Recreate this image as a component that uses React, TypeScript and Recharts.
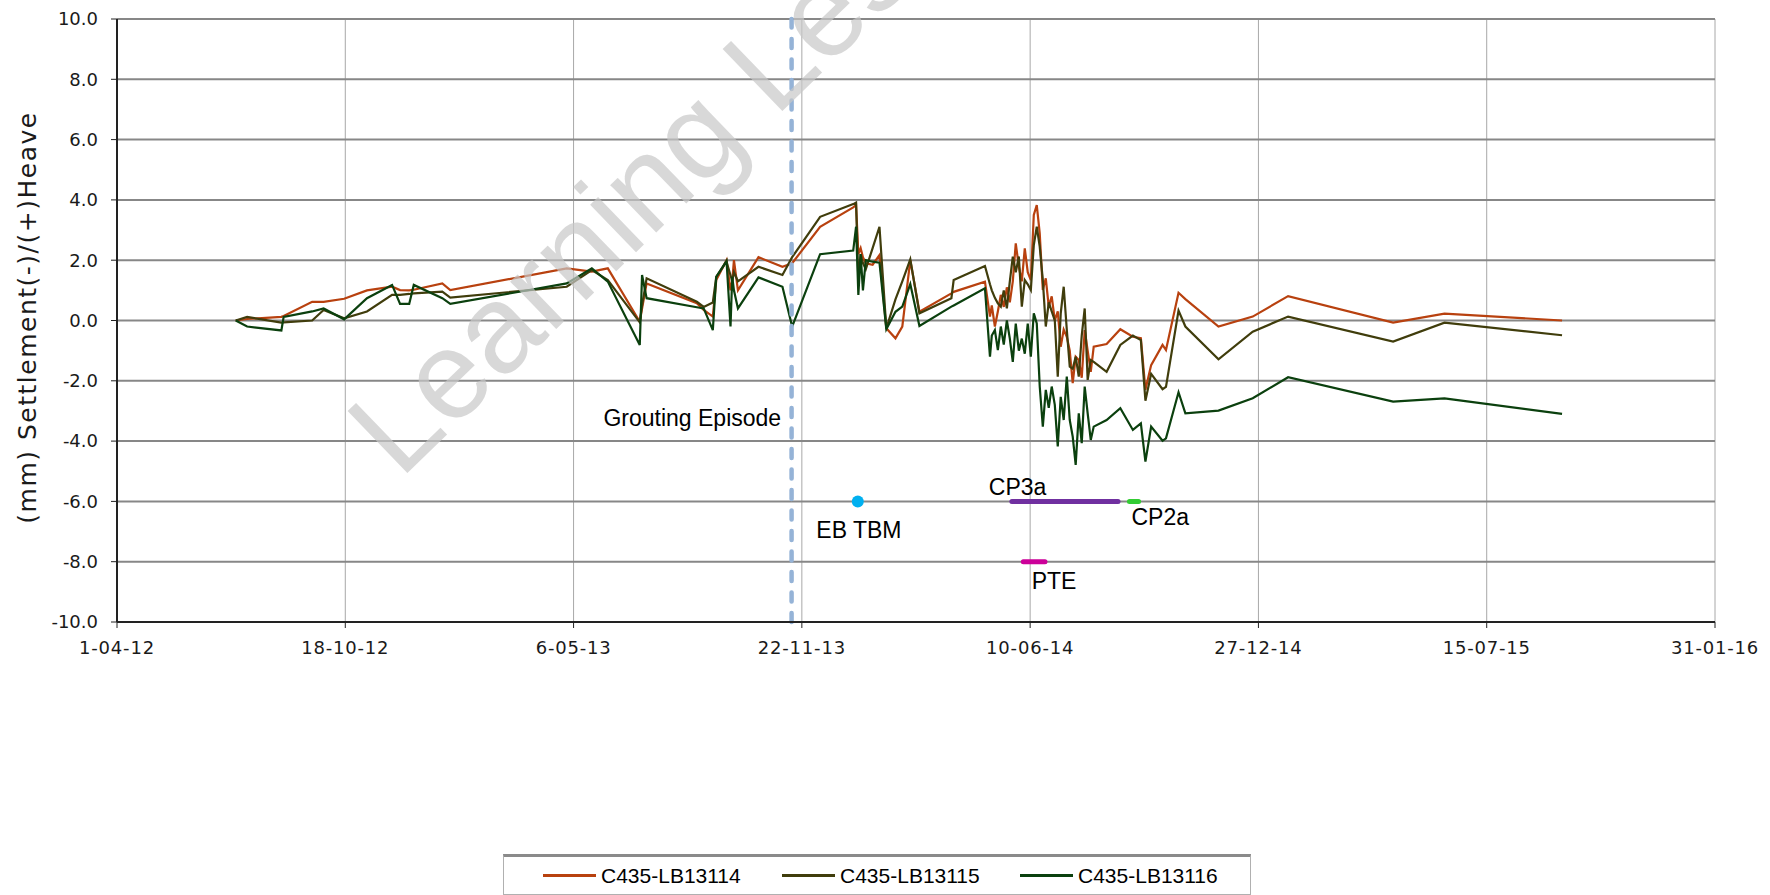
import { CartesianGrid, Legend, Line, LineChart, ReferenceDot, ReferenceLine, XAxis, YAxis } from 'recharts';

// survey dates as days counted from 1-04-12
const days = [
  104, 114, 144, 146, 171, 181, 199, 219, 241, 248, 256, 260, 285, 292, 394, 416, 430, 458, 460, 464,
  508, 514, 522, 525, 534, 537.5, 539, 540.5, 544, 562, 583, 591.5, 616, 645, 647.5, 649.5, 651.5, 653.5, 656, 662,
  668, 674, 682, 688, 695, 703, 731, 733,
  760.4, 764.8, 766.4, 769.1, 771.7, 774.3, 776.9, 779.6, 782.2, 784.8, 787.4, 790.1, 792.7, 795.3, 797.9, 800.6,
  803.2, 805.8, 808.4, 811.1, 813.7, 816.3, 818.9, 821.6, 824.2, 826.8, 829.4, 832.1, 834.7, 837.3, 839.9, 842.6,
  845.2, 847.8, 850.4, 853.1, 855.7,
  867, 879, 890, 897, 901, 906, 916, 919, 930, 936, 965, 995, 1026, 1118, 1163, 1266,
];

const lb13114 = [
  0, 0.05, 0.12, 0.15, 0.62, 0.62, 0.72, 1.0, 1.12, 1.01, 1.0, 1.02, 1.23, 1.01, 1.73, 1.62, 1.73, -0.04, 0.4, 1.23,
  0.57, 0.35, 0.13, 1.34, 2.0, 1.0, 1.3, 2.0, 1.0, 2.1, 1.78, 1.9, 3.11, 3.75, 3.83, 2.2, 2.4, 2.1, 1.9, 1.85,
  2.17, -0.26, -0.59, -0.2, 2.0, 0.29, 0.9, 0.95,
  1.29, 0.13, 0.5, -0.2, 0.3, 0.85, 0.45, 1.1, 0.6, 1.3, 2.56, 1.78, 1.3, 2.39, 1.6, 1.34,
  3.5, 3.83, 2.89, 1.01, 1.4, 0.46, 0.8, 0.0, 0.3, -0.87, -0.3, -0.54, -1.0, -2.08, -1.2, -1.31,
  -1.9, -0.32, -1.0, -1.7, -0.87,
  -0.78, -0.29, -0.54, -0.59, -2.3, -1.48, -0.81, -0.98, 0.92, 0.71, -0.2, 0.13, 0.81, -0.07, 0.23, 0.0,
];

const lb13115 = [
  0, 0.12, -0.07, -0.06, 0.0, 0.35, 0.07, 0.3, 0.85, 0.85, 0.88, 0.9, 0.96, 0.76, 1.12, 1.67, 1.34, -0.06, 0.5, 1.4,
  0.62, 0.45, 0.6, 1.45, 1.95, 1.5, 1.3, 1.6, 1.3, 1.78, 1.51, 2.1, 3.44, 3.86, 3.91, 1.3, 2.2, 1.9, 1.7, 2.4,
  3.11, -0.26, 0.7, 1.3, 2.03, 0.24, 0.74, 1.34,
  1.81, 1.2, 1.0, 0.75, 0.57, 0.46, 1.0, 0.4, 1.3, 2.12, 1.6, 2.12, 0.46, 1.34, 1.2, 1.01,
  2.5, 3.11, 2.45, 1.34, -0.2, 0.6, 0.3, 0.0, -1.86, 0.24, 1.12, -0.3, -1.53, -1.6, -1.2, -1.86,
  -0.5, 0.4, -1.97, -1.31, -1.37,
  -1.7, -0.81, -0.5, -0.65, -2.66, -1.77, -2.28, -2.2, 0.33, -0.2, -1.29, -0.37, 0.13, -0.7, -0.07, -0.49,
];

const lb13116 = [
  0, -0.2, -0.33, 0.12, 0.3, 0.4, 0.04, 0.74, 1.18, 0.55, 0.55, 1.18, 0.74, 0.55, 1.23, 1.73, 1.29, -0.81, 1.51, 0.74,
  0.44, 0.4, -0.32, 1.45, 1.98, -0.2, 1.45, 1.0, 0.4, 1.43, 1.12, -0.2, 2.2, 2.32, 3.11, 0.85, 2.2, 1.0, 2.0, 1.95,
  1.92, -0.29, 0.29, 0.46, 1.21, -0.18, 0.46, 0.5,
  1.07, -1.2, -0.5, -0.32, -0.98, -0.2, -0.8, 0.0, -0.6, -1.37, -0.1, -1.0, -0.6, -1.1, -0.1, -1.2,
  0.24, -0.1, -2.19, -3.52, -2.3, -2.9, -2.19, -2.8, -4.18, -2.53, -3.3, -1.86, -3.3, -3.85, -4.79, -3.08,
  -4.07, -2.19, -3.08, -3.96, -3.52,
  -3.3, -2.91, -3.63, -3.41, -4.68, -3.52, -3.99, -3.91, -2.38, -3.08, -2.99, -2.58, -1.88, -2.69, -2.58, -3.1,
];

const seriesNames = ['C435-LB13114', 'C435-LB13115', 'C435-LB13116'];

const xTicks = [0, 200, 400, 600, 800, 1000, 1200, 1400];
const xTickLabels = ['1-04-12', '18-10-12', '6-05-13', '22-11-13', '10-06-14', '27-12-14', '15-07-15', '31-01-16'];
const yTicks = [-10, -8, -6, -4, -2, 0, 2, 4, 6, 8, 10];

// construction events
const groutingDay = 591;
const tbmDay = 649;
const tbmLevel = -6;
const eventStart = [784, 887, 794];
const eventEnd = [877, 895, 813];
const eventLevel = [-6, -6, -8];

// text notes, placed in data units
const noteText = ['Grouting Episode', 'EB TBM', 'CP3a', 'CP2a', 'PTE'];
const noteDay = [504, 650, 789, 914, 821];
const noteLevel = [-3.23, -6.95, -5.52, -6.52, -8.64];

const lineColors = ['#b8410f', '#403d0c', '#0b400e'];
const eventColors = ['#7030a0', '#33cc33', '#cc0099'];
const legendX = [39, 278, 516];

const rows = days.map((d, i) => ({ day: d, a: lb13114[i], b: lb13115[i], c: lb13116[i] }));

const axisFont = '"DejaVu Sans", Verdana, sans-serif';
const noteFont = '"Liberation Sans", Arial, sans-serif';
const yTickStyle = { fontFamily: axisFont, fontSize: 18, fill: '#1a1a1a' };
const xTickStyle = { fontFamily: axisFont, fontSize: 18, fill: '#1a1a1a', letterSpacing: 0.8 };

const YTitle = (props: any) => {
  const vb = props.viewBox;
  const cy = vb ? vb.y + vb.height / 2 - 3 : 317;
  return (
    <text
      x={27}
      y={cy}
      transform={`rotate(-90 27 ${cy})`}
      textAnchor="middle"
      dominantBaseline="central"
      fontFamily={axisFont}
      fontSize={25}
      letterSpacing={1.5}
      fill="#1a1a1a"
    >
      (mm) Settlement(-)/(+)Heave
    </text>
  );
};

const LegendBox = (props: any) => {
  const payload = props.payload || [];
  return (
    <div
      style={{
        position: 'relative',
        width: 748,
        height: 41,
        boxSizing: 'border-box',
        borderTop: '3px solid #8a8a8a',
        borderLeft: '1px solid #b0b0b0',
        borderRight: '1px solid #b0b0b0',
        borderBottom: '1px solid #b0b0b0',
        background: '#fff',
        fontFamily: noteFont,
        fontSize: 21,
        color: '#000',
      }}
    >
      {payload.map((p: any, i: number) => (
        <div
          key={p.value}
          style={{ position: 'absolute', left: legendX[i], top: 0, height: '100%', display: 'flex', alignItems: 'center' }}
        >
          <span style={{ display: 'inline-block', width: 53, height: 3, background: p.color, marginRight: 5 }} />
          <span>{p.value}</span>
        </div>
      ))}
    </div>
  );
};

export default function App() {
  return (
    <div style={{ position: 'absolute', left: 0, top: 0, width: 1770, height: 895, background: '#fff' }}>
      <LineChart width={1770} height={895} data={rows} margin={{ top: 19, right: 55, bottom: 233, left: 0 }}>
        <CartesianGrid horizontal={false} stroke="#a8a8a8" strokeWidth={1} />
        <CartesianGrid vertical={false} stroke="#878787" strokeWidth={2} />
        <XAxis
          type="number"
          dataKey="day"
          domain={[0, 1400]}
          ticks={xTicks}
          interval={0}
          height={40}
          tickFormatter={(v: number) => xTickLabels[xTicks.indexOf(v)]}
          tick={xTickStyle}
          tickSize={6}
          tickMargin={13}
          axisLine={{ stroke: '#222', strokeWidth: 2 }}
          tickLine={{ stroke: '#222' }}
        />
        <YAxis
          type="number"
          domain={[-10, 10]}
          ticks={yTicks}
          interval={0}
          width={117}
          tickFormatter={(v: number) => v.toFixed(1)}
          tick={yTickStyle}
          tickSize={6}
          tickMargin={13}
          axisLine={{ stroke: '#222', strokeWidth: 2 }}
          tickLine={{ stroke: '#222' }}
          label={YTitle}
        />
        <Line type="linear" dataKey="a" name={seriesNames[0]} stroke={lineColors[0]} strokeWidth={2.2} dot={false} isAnimationActive={false} />
        <Line type="linear" dataKey="b" name={seriesNames[1]} stroke={lineColors[1]} strokeWidth={2.2} dot={false} isAnimationActive={false} />
        <Line type="linear" dataKey="c" name={seriesNames[2]} stroke={lineColors[2]} strokeWidth={2.2} dot={false} isAnimationActive={false} />
        <ReferenceLine
          x={groutingDay}
          stroke="#95b3d7"
          strokeWidth={4.5}
          strokeDasharray="9 11.5"
          strokeLinecap="round"
        />
        {eventStart.map((s, i) => (
          <ReferenceLine
            key={`ev${i}`}
            segment={[
              { x: s, y: eventLevel[i] },
              { x: eventEnd[i], y: eventLevel[i] },
            ]}
            stroke={eventColors[i]}
            strokeWidth={5}
            strokeLinecap="round"
          />
        ))}
        <ReferenceDot x={tbmDay} y={tbmLevel} r={6} fill="#00b0f0" stroke="none" />
        {noteText.map((t, i) => (
          <ReferenceDot
            key={t}
            x={noteDay[i]}
            y={noteLevel[i]}
            r={0}
            fill="none"
            stroke="none"
            label={{ value: t, position: 'center', fill: '#000', fontSize: 23, fontFamily: noteFont }}
          />
        ))}
        <Legend
          layout="horizontal"
          verticalAlign="middle"
          align="center"
          content={LegendBox}
          wrapperStyle={{ left: 503, top: 854, width: 748, height: 41 }}
        />
      </LineChart>
      <svg
        width={1770}
        height={895}
        style={{ position: 'absolute', left: 0, top: 0, pointerEvents: 'none' }}
      >
        <text
          x={400}
          y={480}
          transform="rotate(-44 400 480)"
          fontFamily={noteFont}
          fontSize={125}
          fill="#c8c8c8"
          fillOpacity={0.7}
        >
          Learning Lessons
        </text>
      </svg>
    </div>
  );
}
